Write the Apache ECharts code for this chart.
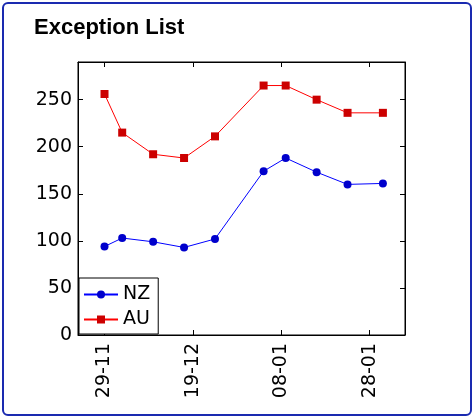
<!DOCTYPE html>
<html>
<head>
<meta charset="utf-8">
<script src="https://cdn.jsdelivr.net/npm/echarts@6/dist/echarts.min.js"></script>
<style>
html, body { margin: 0; padding: 0; background: #fff; }
#frame { position: absolute; left: 2px; top: 2px; width: 466px; height: 410px; border: 2px solid #1a2ab0; border-radius: 6px; }
#main { width: 474px; height: 418px; }
</style>
</head>
<body>
<div id="frame"></div>
<div id="main"></div>
<script>
// days counted from 29-11
var dayOffsets = [0, 4, 11, 18, 25, 36, 41, 48, 55, 63];
var nzValues = [94, 103, 99, 93, 102, 174, 188, 173, 160, 161];
var auValues = [256, 215, 192, 188, 211, 265, 265, 250, 236, 236];
var xTickValues = [0, 20, 40, 60];
var xTickLabels = ['29-11', '19-12', '08-01', '28-01'];

function pairs(vals) {
	return vals.map(function(v, i) { return [dayOffsets[i], v]; });
}

var font = 'DejaVu Sans';
var black = { color: '#000' };
var chart = echarts.init(document.getElementById('main'));
chart.setOption({
	animation: false,
	title: {
		text: 'Exception List', left: 29, top: 12,
		textStyle: { fontFamily: 'Liberation Sans', fontWeight: 'bold', fontSize: 22, color: '#000' }
	},
	grid: { left: 78, right: 69, top: 62, bottom: 83, show: true, borderColor: '#000', borderWidth: 1 },
	legend: {
		left: 79, bottom: 84, orient: 'vertical', itemGap: 6, itemWidth: 34, itemHeight: 10,
		backgroundColor: '#fff', borderColor: '#000', borderWidth: 1, borderRadius: 0, padding: [7, 8, 5, 4],
		textStyle: { fontFamily: font, fontSize: 19, color: '#000' },
		data: ['NZ', 'AU']
	},
	xAxis: [{
		type: 'value', min: -6, max: 68,
		splitLine: { show: false },
		axisLine: { onZero: false, lineStyle: black },
		axisTick: { inside: true, length: 5, customValues: xTickValues, lineStyle: black },
		axisLabel: {
			customValues: xTickValues, rotate: 90, fontFamily: font, fontSize: 19, color: '#000',
			formatter: function(v) { return xTickLabels[xTickValues.indexOf(v)]; }
		}
	}, {
		type: 'value', min: -6, max: 68, position: 'top',
		splitLine: { show: false }, axisLine: { onZero: false, lineStyle: black },
		axisTick: { inside: true, length: 5, customValues: xTickValues, lineStyle: black },
		axisLabel: { show: false }
	}],
	yAxis: [{
		type: 'value', min: 0, max: 290, interval: 50,
		splitLine: { show: false },
		axisLine: { show: true, onZero: false, lineStyle: black },
		axisTick: { show: true, inside: true, length: 5, lineStyle: black },
		axisLabel: { fontFamily: font, fontSize: 19, color: '#000', showMaxLabel: false, margin: 6 }
	}, {
		type: 'value', min: 0, max: 290, interval: 50, position: 'right',
		splitLine: { show: false },
		axisLine: { show: true, onZero: false, lineStyle: black },
		axisTick: { show: true, inside: true, length: 5, lineStyle: black },
		axisLabel: { show: false }
	}],
	series: [{
		name: 'NZ', type: 'line', data: pairs(nzValues),
		symbol: 'circle', symbolSize: 8,
		lineStyle: { color: '#0000ff', width: 1 }, itemStyle: { color: '#0000cc' }
	}, {
		name: 'AU', type: 'line', data: pairs(auValues),
		symbol: 'rect', symbolSize: 8,
		lineStyle: { color: '#ff0000', width: 1 }, itemStyle: { color: '#cc0000' }
	}]
});
</script>
</body>
</html>
